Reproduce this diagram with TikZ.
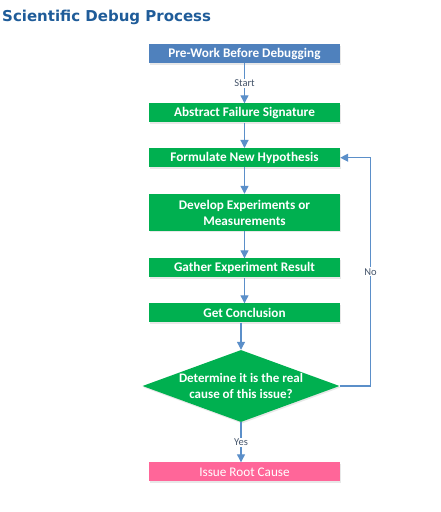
\documentclass[tikz,border=0pt]{standalone}
\usepackage{fontspec}
\setmainfont{Carlito}
\newfontfamily\titlefont{DejaVu Sans}
\usetikzlibrary{arrows.meta,shapes.geometric,shadows}
\definecolor{boxblue}{HTML}{4F81BD}
\definecolor{boxgreen}{HTML}{00B050}
\definecolor{boxpink}{HTML}{FF6699}
\definecolor{linkblue}{HTML}{5B8FC9}
\definecolor{titleblue}{HTML}{1F5C99}
\definecolor{labgray}{HTML}{44546A}
\tikzset{
  x=1pt,y=1pt,
  stepbox/.style={rectangle, minimum width=191pt, minimum height=19pt, inner sep=0pt,
    text=white, font=\fontsize{13.2}{16}\selectfont\bfseries, align=center,
    drop shadow={opacity=0.18, shadow xshift=1pt, shadow yshift=-1.5pt}},
  decision/.style={diamond, aspect=2.74, minimum width=197pt, minimum height=72pt, inner sep=0pt,
    fill=boxgreen, text=white, font=\fontsize{13}{15.6}\selectfont\bfseries, align=center,
    drop shadow={opacity=0.18, shadow xshift=1pt, shadow yshift=-1.5pt}},
  link/.style={draw=linkblue, line width=1.2pt, -{Triangle[width=8pt,length=8pt]}},
  lab/.style={fill=white, inner sep=1pt, text=labgray, font=\fontsize{10.5}{12}\selectfont}
}
\begin{document}
\begin{tikzpicture}
\useasboundingbox (0,0) rectangle (440,512);
\fill[white] (0,0) rectangle (440,512);
\node[anchor=base west, text=titleblue, font=\titlefont\fontsize{15}{18}\selectfont\bfseries, inner sep=0pt] (title) at (2,490) {Scientific Debug Process};

\node[stepbox, fill=boxblue] (pre) at (244.5,458.3) {Pre-Work Before Debugging};
\node[stepbox, fill=boxgreen] (abs) at (244.5,399) {Abstract Failure Signature};
\node[stepbox, fill=boxgreen] (form) at (244.5,354.3) {Formulate New Hypothesis};
\node[stepbox, fill=boxgreen, minimum height=37pt] (dev) at (244.5,299.5) {Develop Experiments or\\Measurements};
\node[stepbox, fill=boxgreen] (gat) at (244.5,244) {Gather Experiment Result};
\node[stepbox, fill=boxgreen] (con) at (244.5,199) {Get Conclusion};
\node[decision] (dec) at (241,126) {Determine it is the real\\cause of this issue?};
\node[stepbox, fill=boxpink, font=\fontsize{13.2}{16}\selectfont] (root) at (244.5,40) {Issue Root Cause};

\coordinate (loopb) at (370.5,126);
\coordinate (loopt) at (370.5,354.3);

\draw[link] (pre) -- node[lab] {Start} (abs);
\draw[link] (abs) -- (form);
\draw[link] (form) -- (dev);
\draw[link] (dev) -- (gat);
\draw[link] (gat) -- (con);
\draw[link] (con.south -| dec.north) -- (dec.north);
\draw[link] (dec.south) -- node[lab] {Yes} (root.north -| dec.south);
\draw[draw=linkblue, line width=1.2pt] (dec.east) -- (loopb) -- node[lab, pos=0.5] (no) {No} (loopt);
\draw[link] (loopt) -- (form.east);
\end{tikzpicture}
\end{document}
